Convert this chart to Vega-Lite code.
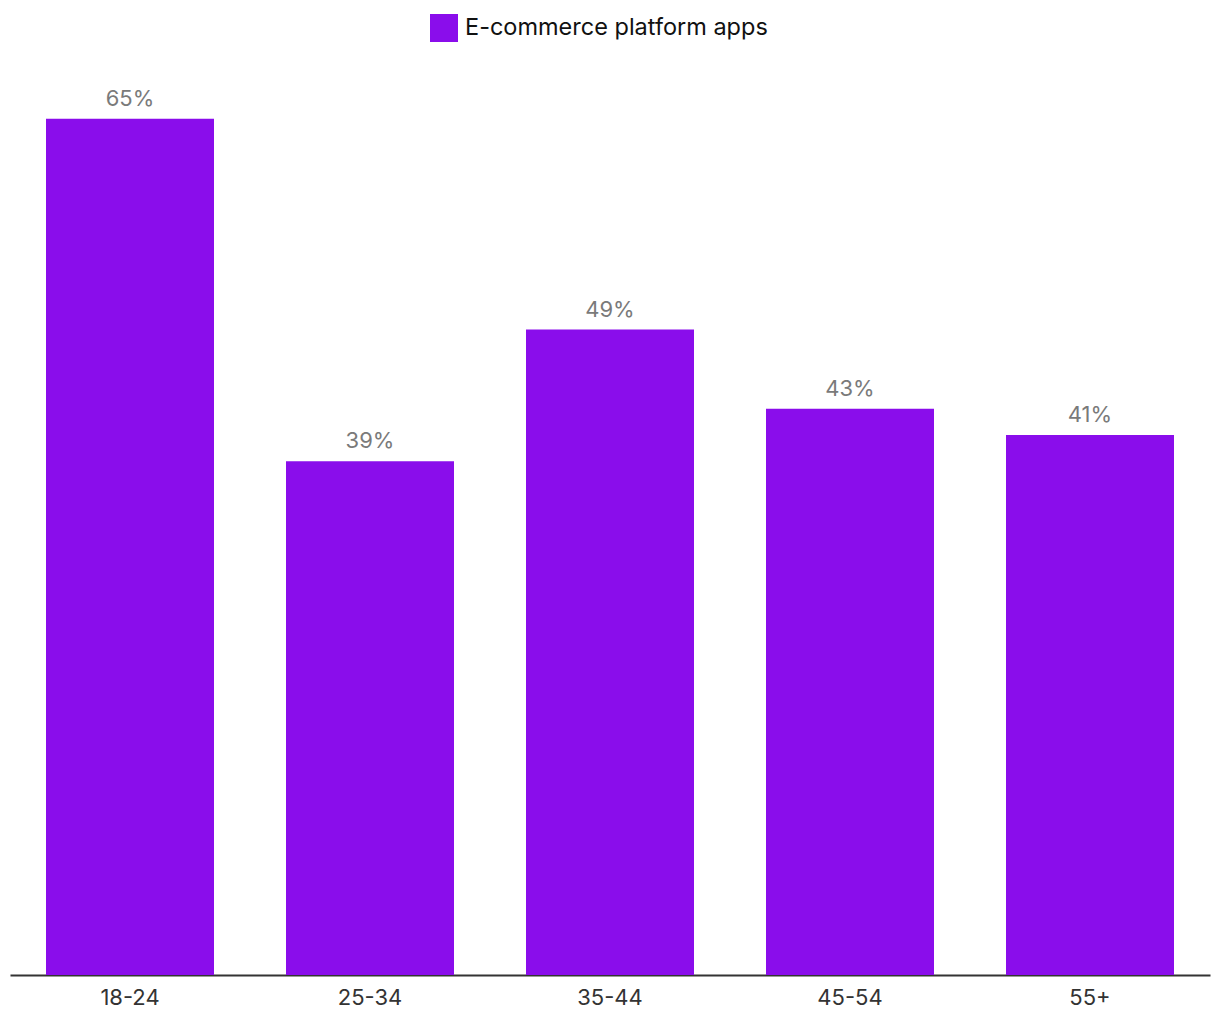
{
  "$schema": "https://vega.github.io/schema/vega-lite/v6.json",
  "autosize": {"type": "none"},
  "padding": {"left": 10, "top": 53, "right": 10, "bottom": 45},
  "width": 1200,
  "height": 922,
  "background": "white",
  "config": {
    "view": {"stroke": null},
    "font": "Inter"
  },
  "data": {
    "values": [
      {"age": "18-24", "series": "E-commerce platform apps", "value": 0.65},
      {"age": "25-34", "series": "E-commerce platform apps", "value": 0.39},
      {"age": "35-44", "series": "E-commerce platform apps", "value": 0.49},
      {"age": "45-54", "series": "E-commerce platform apps", "value": 0.43},
      {"age": "55+", "series": "E-commerce platform apps", "value": 0.41}
    ]
  },
  "encoding": {
    "x": {
      "field": "age",
      "type": "nominal",
      "sort": null,
      "scale": {"paddingInner": 0.3, "paddingOuter": 0.15},
      "axis": {
        "title": null,
        "labelAngle": 0,
        "labelFontSize": 22,
        "labelColor": "#333333",
        "labelPadding": 12,
        "domainColor": "#333333",
        "domainWidth": 2,
        "ticks": false,
        "grid": false
      }
    },
    "y": {
      "field": "value",
      "type": "quantitative",
      "scale": {"domain": [0, 0.7], "nice": false},
      "axis": null
    }
  },
  "layer": [
    {
      "mark": {"type": "bar"},
      "encoding": {
        "color": {
          "field": "series",
          "type": "nominal",
          "scale": {"range": ["#8A0DEB"]},
          "legend": {
            "title": null,
            "orient": "none",
            "legendX": 420,
            "legendY": -39,
            "direction": "horizontal",
            "symbolType": "square",
            "symbolSize": 784,
            "symbolStrokeWidth": 0,
            "labelFontSize": 23.5,
            "labelColor": "#111111",
            "labelOffset": 7,
            "labelLimit": 0
          }
        }
      }
    },
    {
      "mark": {"type": "text", "baseline": "bottom", "dy": -8, "fontSize": 22, "color": "#7a7a7a"},
      "encoding": {
        "text": {"field": "value", "type": "quantitative", "format": ".0%"},
        "detail": {"field": "series"}
      }
    }
  ]
}
